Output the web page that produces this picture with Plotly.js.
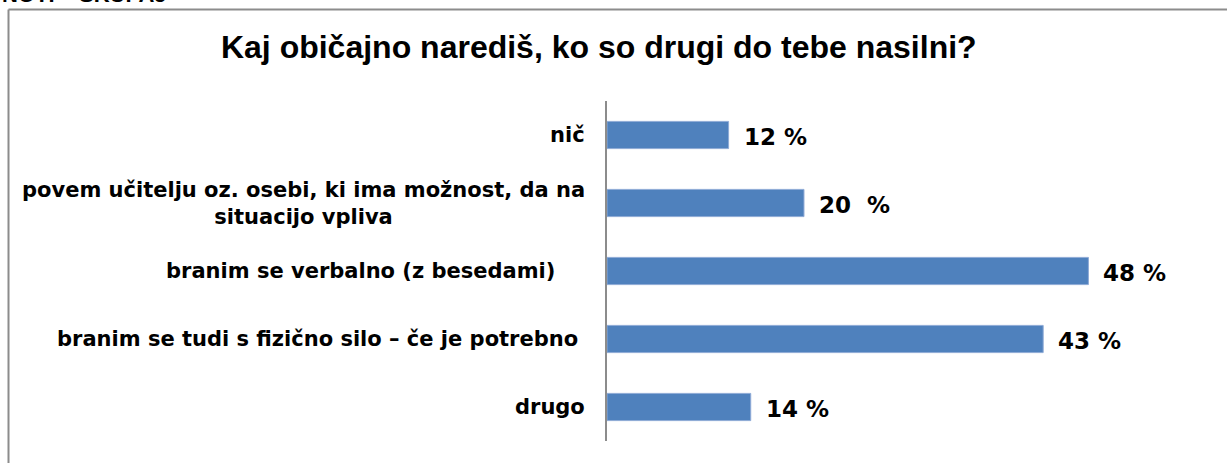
<!DOCTYPE html>
<html>
<head>
<meta charset="utf-8">
<script src="https://cdn.plot.ly/plotly-3.0.1.min.js"></script>
<style>html,body{margin:0;padding:0;background:#fff;overflow:hidden}</style>
</head>
<body>
<div id="chart" style="width:1227px;height:463px"></div>
<script>
const categories = [
  'nič',
  'povem učitelju oz. osebi, ki ima možnost, da na<br>situacijo vpliva',
  'branim se verbalno (z besedami)\u00a0\u00a0\u00a0\u00a0',
  'branim se tudi s fizično silo – če je potrebno\u00a0',
  'drugo'
];
const values = [12.1, 19.6, 47.9, 43.4, 14.3];
const valueLabels = ['12 %', '20\u00a0\u00a0%', '48 %', '43 %', '14 %'];
const titleText = 'Kaj običajno narediš, ko so drugi do tebe nasilni?';
const headerText = 'NOTI – SKUPAJ';

const FONT = 'Liberation Sans, Arial, sans-serif';
const WIDE = 'DejaVu Sans, sans-serif';

const trace = {
  type: 'bar',
  orientation: 'h',
  x: values,
  y: categories,
  marker: {color: '#4F81BD', line: {color: '#8eaad6', width: 1}},
  hoverinfo: 'none'
};

const annotations = [];
categories.forEach((c, i) => {
  annotations.push({
    xref: 'paper', yref: 'y', x: 0, y: c,
    xanchor: 'right', yanchor: 'middle', xshift: -20,
    text: '<b>' + c + '</b>', showarrow: false, align: 'center',
    font: {family: WIDE, size: 21, color: '#000'}
  });
  annotations.push({
    xref: 'x', yref: 'y', x: values[i], y: c,
    xanchor: 'left', yanchor: 'middle', xshift: 13, yshift: -2,
    text: '<b>' + valueLabels[i] + '</b>', showarrow: false,
    font: {family: WIDE, size: 23, color: '#000'}
  });
});
annotations.push({
  xref: 'paper', yref: 'paper', x: -1.0117, y: 1.2706,
  xanchor: 'left', yanchor: 'bottom',
  text: '<b>' + headerText + '</b>', showarrow: false,
  font: {family: FONT, size: 22, color: '#000'}
});

const layout = {
  width: 1227, height: 463,
  margin: {l: 607, r: 20, t: 101, b: 22, pad: 0},
  paper_bgcolor: '#fff', plot_bgcolor: '#fff',
  showlegend: false,
  title: {
    text: '<b>' + titleText + '</b>',
    x: 0.488, xanchor: 'center', xref: 'container',
    y: 0.898, yanchor: 'middle', yref: 'container',
    font: {family: FONT, size: 32, color: '#000'}
  },
  xaxis: {range: [0, 59.7], visible: false, fixedrange: true},
  yaxis: {
    autorange: 'reversed', showticklabels: false, ticks: '',
    showline: true, linecolor: '#8c8c8c', linewidth: 2,
    showgrid: false, zeroline: false, fixedrange: true
  },
  bargap: 0.6,
  annotations: annotations,
  shapes: [
    {type: 'line', xref: 'paper', yref: 'paper', x0: -0.9975, x1: -0.9975, y0: 1.2691, y1: -0.07,
     line: {color: '#8c8c8c', width: 2}},
    {type: 'line', xref: 'paper', yref: 'paper', x0: -0.9975, x1: 1.04, y0: 1.2691, y1: 1.2691,
     line: {color: '#8c8c8c', width: 2}}
  ]
};

Plotly.newPlot('chart', [trace], layout, {displayModeBar: false, staticPlot: true});
</script>
</body>
</html>
